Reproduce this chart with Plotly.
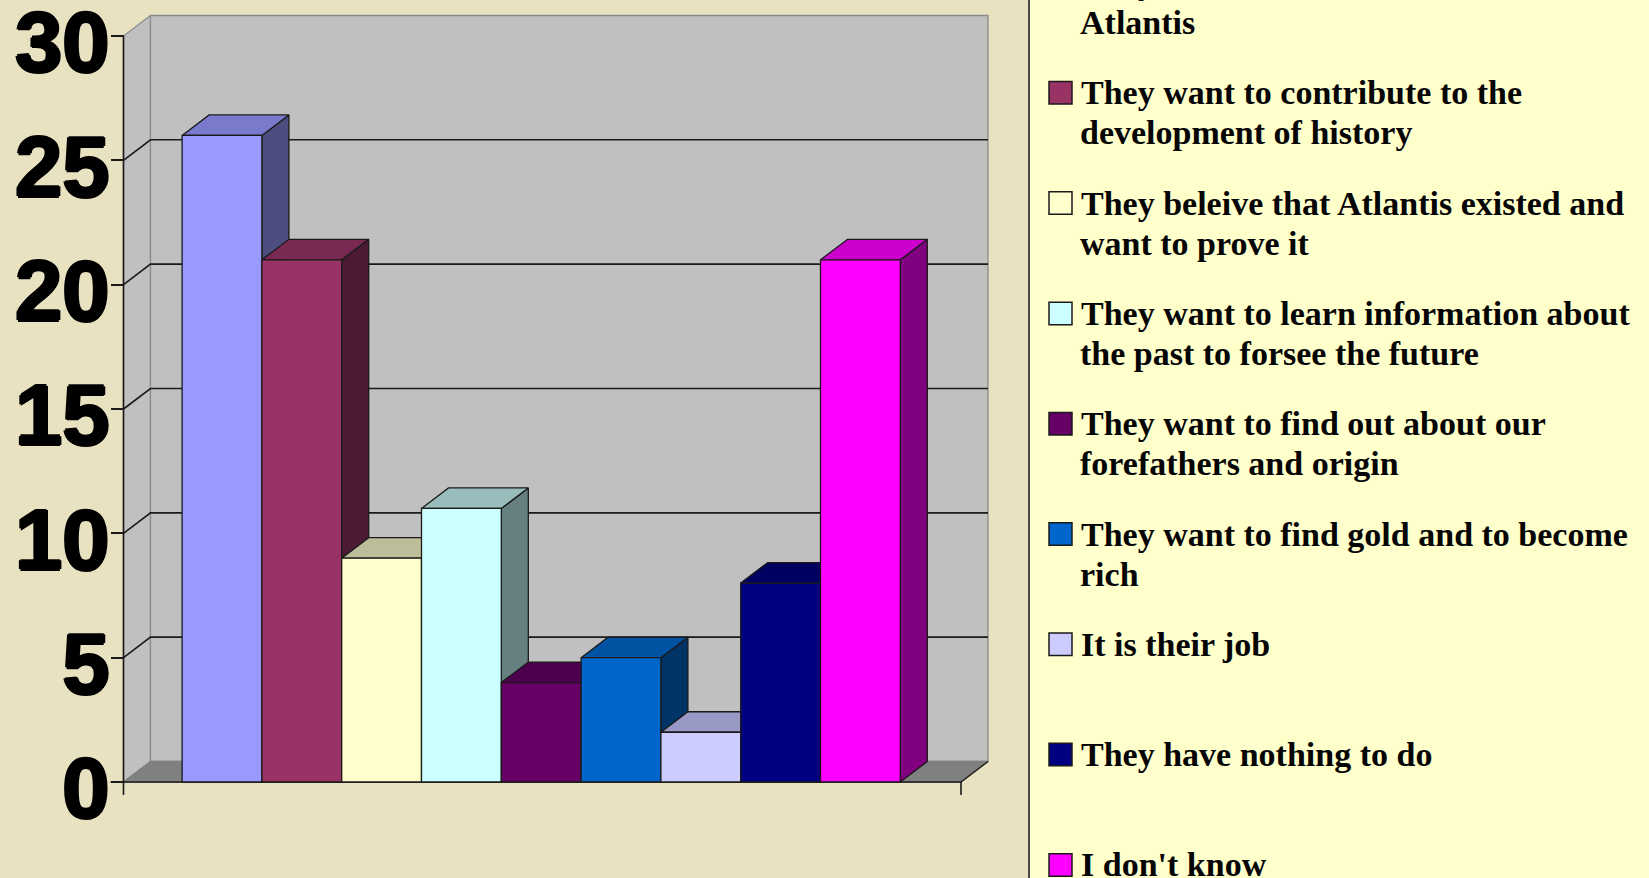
import plotly.graph_objects as go

# ---- data ----
categories = [
    "They want to find out about Atlantis",
    "They want to contribute to the development of history",
    "They beleive that Atlantis existed and want to prove it",
    "They want to learn information about the past to forsee the future",
    "They want to find out about our forefathers and origin",
    "They want to find gold and to become rich",
    "It is their job",
    "They have nothing to do",
    "I don't know",
]
values = [26, 21, 9, 11, 4, 5, 2, 8, 21]
y_ticks = [0, 5, 10, 15, 20, 25, 30]
legend_lines = [
    ["They want to find out about", "Atlantis"],
    ["They want to contribute to the", "development of history"],
    ["They beleive that Atlantis existed and", "want to prove it"],
    ["They want to learn information about", "the past to forsee the future"],
    ["They want to find out about our", "forefathers and origin"],
    ["They want to find gold and to become", "rich"],
    ["It is their job"],
    ["They have nothing to do"],
    ["I don't know"],
]
front = ["#9999FF", "#993366", "#FFFFCC", "#CCFFFF", "#660066", "#0066CC", "#CCCCFF", "#000080", "#FF00FF"]
top = ["#7A7ACC", "#7A2952", "#BDBD99", "#99BDBD", "#4D004D", "#0052A3", "#9999C6", "#000060", "#CC00CC"]
side = ["#4D4D80", "#4D1A33", "#808066", "#668080", "#330033", "#003366", "#666680", "#000040", "#800080"]

# ---- page geometry ----
W, H = 1649, 878
PX_X0, PX_UNIT_X = 222.0, 79.8   # pixel of category 0, pixels per category
PX_Y0, PX_UNIT_Y = 782.0, 24.867 # pixel of value 0, pixels per value
x_range = [(0 - PX_X0) / PX_UNIT_X, (W - PX_X0) / PX_UNIT_X]
y_range = [(PX_Y0 - H) / PX_UNIT_Y, PX_Y0 / PX_UNIT_Y]
DX = 27 / PX_UNIT_X     # depth offset
DY = 20.5 / PX_UNIT_Y
XL = (123.5 - PX_X0) / PX_UNIT_X   # front left of floor
XR = (961 - PX_X0) / PX_UNIT_X   # front right of floor
HW = 0.5
YMAX = y_ticks[-1]
TICK_X = 13 / PX_UNIT_X
TICK_Y = 13 / PX_UNIT_Y
INK = "#1a1a1a"

fig = go.Figure()


def poly(xs, ys, fill, line=INK, width=1.3):
    fig.add_trace(go.Scatter(
        x=xs + xs[:1], y=ys + ys[:1], mode="lines", fill="toself", fillcolor=fill,
        line=dict(color=line, width=width), hoverinfo="skip", showlegend=False,
    ))


def line(xs, ys, color=INK, width=1.6):
    fig.add_trace(go.Scatter(
        x=xs, y=ys, mode="lines", line=dict(color=color, width=width),
        hoverinfo="skip", showlegend=False,
    ))


# walls and floor
poly([XL, XL + DX, XL + DX, XL], [0, DY, YMAX + DY, YMAX], "#C0C0C0", "#8c8c8c")
poly([XL + DX, XR + DX, XR + DX, XL + DX], [DY, DY, YMAX + DY, YMAX + DY], "#C0C0C0", "#8c8c8c")
poly([XL, XL + DX, XR + DX, XR], [0, DY, DY, 0], "#808080", "#808080")

# gridlines on the walls
for t in y_ticks[1:-1]:
    line([XL, XL + DX, XR + DX], [t, t + DY, t + DY])
line([XR, XR + DX], [0, DY], width=1.3)

# axis lines and end tick
line([XL, XL], [-TICK_Y, YMAX])
line([XL - TICK_X, XR], [0, 0])
line([XR, XR], [0, -TICK_Y])

# depth faces of the bars, painted left to right
for i, v in enumerate(values):
    l, r = i - HW, i + HW
    poly([r, r + DX, r + DX, r], [0, DY, v + DY, v], side[i])
    poly([l, r, r + DX, l + DX], [v, v, v + DY, v + DY], top[i])

# front faces on an overlaid axis pair, so they lie above all depth faces
fig.add_trace(go.Bar(
    x=list(range(len(values))), y=values, width=1.0, marker=dict(color=front, line=dict(color=INK, width=1.3)),
    hovertext=categories, hoverinfo="text+y", xaxis="x2", yaxis="y2", showlegend=False,
))

# legend panel, swatches and text
shapes = [dict(type="rect", xref="paper", yref="paper", x0=1029 / W, x1=1.01, y0=-0.01, y1=1.01,
               fillcolor="#FFFFCC", line=dict(color="#4a4a4a", width=2), layer="below")]
annotations = []
ROW0, ROW_STEP = -17.5, 110.3
SW_X0, SW_X1, SW_H = 1049, 1072, 22.5
for i, rows in enumerate(legend_lines):
    cy = ROW0 + ROW_STEP * i
    shapes.append(dict(type="rect", xref="paper", yref="paper", x0=SW_X0 / W, x1=SW_X1 / W,
                       y0=1 - (cy + SW_H / 2) / H, y1=1 - (cy - SW_H / 2) / H,
                       fillcolor=front[i], line=dict(color=INK, width=1.5), layer="above"))
    for j, txt in enumerate(rows):
        annotations.append(dict(
            xref="paper", yref="paper", x=(1079 if j == 0 else 1078) / W, y=1 - (cy + 40 * j) / H,
            xanchor="left", yanchor="middle", text=txt, showarrow=False, align="left",
            font=dict(family="Liberation Serif", size=34, color="#050505", weight="bold"),
        ))

base_axis = dict(range=x_range, domain=[0, 1], showgrid=False, zeroline=False, fixedrange=True)
fig.update_layout(
    width=W, height=H, autosize=False,
    margin=dict(l=0, r=0, t=0, b=0, pad=0, autoexpand=False),
    paper_bgcolor="#E8E2C1", plot_bgcolor="rgba(0,0,0,0)",
    showlegend=False, shapes=shapes, annotations=annotations,
    xaxis=dict(base_axis, visible=False),
    yaxis=dict(range=y_range, domain=[0, 1], showgrid=False, zeroline=False, fixedrange=True,
               anchor="free", position=123.5 / W, side="left", showline=False, automargin=False,
               tickmode="array", tickvals=y_ticks, ticktext=[str(t) for t in y_ticks],
               ticks="outside", ticklen=13, tickwidth=1.6, tickcolor=INK,
               ticklabeloverflow="allow", ticklabelstandoff=-16, ticklabelshift=6,
               tickfont=dict(family="Liberation Sans", size=85, color="#000", weight="bold",
                             shadow="1.5px 0 0 #000, -1.5px 0 0 #000, 0 1.5px 0 #000, 0 -1.5px 0 #000")),
    xaxis2=dict(base_axis, overlaying="x", visible=False, anchor="y2"),
    yaxis2=dict(range=y_range, domain=[0, 1], overlaying="y", visible=False, anchor="x2", fixedrange=True),
)

fig.write_html("out.html", config=dict(displayModeBar=False),
               post_script="document.body.style.margin='0';document.body.style.overflow='hidden';")
